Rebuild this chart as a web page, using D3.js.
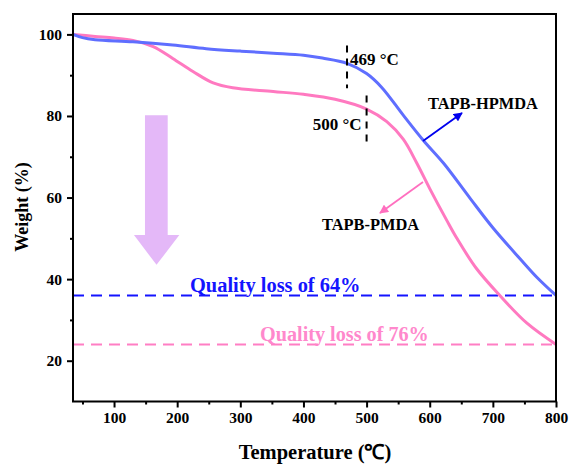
<!DOCTYPE html>
<html>
<head>
<meta charset="utf-8">
<script src="https://cdn.jsdelivr.net/npm/d3@7"></script>
<style>
  html, body { margin: 0; padding: 0; background: #fff; }
  svg { display: block; font-family: "Liberation Serif", "Times New Roman", serif; }
</style>
</head>
<body>
<svg id="chart" width="571" height="466"></svg>
<script>
// TGA curves: temperature (°C) vs. remaining weight (%)
const hpmdaTemp   = [35, 50, 70, 130, 193, 246, 300, 352, 400, 430, 469, 500, 524, 558, 590, 622, 664, 701, 743, 770, 800];
const hpmdaWeight = [100, 99.2, 98.7, 98.2, 97.4, 96.5, 95.9, 95.4, 94.9, 94.2, 92.9, 90.4, 87, 80.2, 74, 68.4, 59.8, 52.4, 45.0, 40.4, 36];

const pmdaTemp   = [35, 70, 100, 130, 162, 193, 225, 257, 288, 352, 400, 450, 500, 532, 558, 579, 600, 627, 643, 674, 711, 754, 800];
const pmdaWeight = [100, 99.5, 99.1, 98.5, 97, 94.1, 90.9, 88.1, 86.9, 86, 85.3, 84.1, 81.7, 78.6, 74.3, 68.6, 62.2, 54.4, 50, 42.6, 36, 29.2, 24];

const xTicks = [100, 200, 300, 400, 500, 600, 700, 800];
const xMinor = [50, 150, 250, 350, 450, 550, 650, 750];
const yTicks = [20, 40, 60, 80, 100];
const yMinor = [30, 50, 70, 90];

const onsetTemps = [469, 500];       // marked decomposition temperatures
const qualityLoss = [64, 76];        // % weight lost at 800 °C

const blue = "#5f6eff";
const pink = "#ff79c0";

const svg = d3.select("#chart");
const plotL = 73, plotR = 556, plotT = 14, plotB = 401.5;

const x = d3.scaleLinear().domain([35, 800]).range([plotL, plotR]);
const y = d3.scaleLinear().domain([10, 105]).range([plotB, plotT]);

// reference lines for residual weight
const lossColors = ["#1414ff", "#ff7ec4"];
qualityLoss.forEach((q, i) => {
  svg.append("line")
    .attr("x1", plotL).attr("x2", plotR)
    .attr("y1", y(100 - q)).attr("y2", y(100 - q))
    .attr("stroke", lossColors[i]).attr("stroke-width", 2)
    .attr("stroke-dasharray", "11,7");
});

svg.append("text").attr("x", 190).attr("y", y(100 - qualityLoss[0]) - 3.5)
  .attr("font-size", 20.4).attr("font-weight", "bold").attr("fill", "#1414ff")
  .text(`Quality loss of ${qualityLoss[0]}%`);
svg.append("text").attr("x", 260).attr("y", y(100 - qualityLoss[1]) - 3)
  .attr("font-size", 20.2).attr("font-weight", "bold").attr("fill", "#ff88cc")
  .text(`Quality loss of ${qualityLoss[1]}%`);

// big downward arrow (temperature / weight coordinates)
const arrowPts = [
  [149, 80.2], [185, 80.2], [185, 50.8], [203.4, 50.8],
  [167.3, 43.5], [131.6, 50.8], [149, 50.8]
].map(([t, w]) => [x(t), y(w)]);
svg.append("path")
  .attr("d", d3.line()(arrowPts) + "Z")
  .attr("fill", "#e4b8f8");

// curves
const line = d3.line().curve(d3.curveCatmullRom.alpha(0.5));
svg.append("path")
  .attr("d", line(pmdaTemp.map((t, i) => [x(t), y(pmdaWeight[i])])))
  .attr("fill", "none").attr("stroke", pink).attr("stroke-width", 3);
svg.append("path")
  .attr("d", line(hpmdaTemp.map((t, i) => [x(t), y(hpmdaWeight[i])])))
  .attr("fill", "none").attr("stroke", blue).attr("stroke-width", 3);

// onset markers
const markerSpans = [[97.3, 86.8], [85, 73.2]];
onsetTemps.forEach((t, i) => {
  svg.append("line")
    .attr("x1", x(t)).attr("x2", x(t))
    .attr("y1", y(markerSpans[i][0])).attr("y2", y(markerSpans[i][1]))
    .attr("stroke", "#000").attr("stroke-width", 2)
    .attr("stroke-dasharray", "7,6");
});
svg.append("text").attr("x", x(onsetTemps[0]) + 3).attr("y", 65)
  .attr("font-size", 17).attr("font-weight", "bold").text(`${onsetTemps[0]} °C`);
svg.append("text").attr("x", x(onsetTemps[1]) - 5).attr("y", 130)
  .attr("text-anchor", "end")
  .attr("font-size", 17).attr("font-weight", "bold").text(`${onsetTemps[1]} °C`);

// series labels with pointer arrows
const defs = svg.append("defs");
[["hBlue", "#0000ee"], ["hPink", "#ff6fbf"]].forEach(([id, c]) => {
  defs.append("marker").attr("id", id)
    .attr("viewBox", "0 0 10 10").attr("refX", 9).attr("refY", 5)
    .attr("markerWidth", 5.5).attr("markerHeight", 5)
    .attr("orient", "auto-start-reverse")
    .append("path").attr("d", "M0,0 L10,5 L0,10 Z").attr("fill", c);
});
svg.append("line").attr("x1", 423).attr("y1", 141).attr("x2", 462).attr("y2", 113)
  .attr("stroke", "#0000ee").attr("stroke-width", 1.8).attr("marker-end", "url(#hBlue)");
svg.append("line").attr("x1", 423).attr("y1", 182).attr("x2", 380).attr("y2", 213)
  .attr("stroke", "#ff6fbf").attr("stroke-width", 1.8).attr("marker-end", "url(#hPink)");

svg.append("text").attr("x", 428).attr("y", 109)
  .attr("font-size", 16.4).attr("font-weight", "bold").text("TAPB-HPMDA");
svg.append("text").attr("x", 322).attr("y", 229.5)
  .attr("font-size", 16.4).attr("font-weight", "bold").text("TAPB-PMDA");

// frame and axes
svg.append("rect").attr("x", plotL).attr("y", plotT)
  .attr("width", plotR - plotL).attr("height", plotB - plotT)
  .attr("fill", "none").attr("stroke", "#000").attr("stroke-width", 2);

const xAxis = svg.append("g").attr("transform", `translate(0,${plotB})`)
  .call(d3.axisBottom(x).tickValues(xTicks).tickSize(6).tickPadding(4));
const xAxisMinor = svg.append("g").attr("transform", `translate(0,${plotB})`)
  .call(d3.axisBottom(x).tickValues(xMinor).tickSize(3).tickFormat(""));
const yAxis = svg.append("g").attr("transform", `translate(${plotL},0)`)
  .call(d3.axisLeft(y).tickValues(yTicks).tickSize(6).tickPadding(5));
const yAxisMinor = svg.append("g").attr("transform", `translate(${plotL},0)`)
  .call(d3.axisLeft(y).tickValues(yMinor).tickSize(3).tickFormat(""));

[xAxis, xAxisMinor, yAxis, yAxisMinor].forEach(g => {
  g.select(".domain").remove();
  g.selectAll(".tick line").attr("stroke", "#000").attr("stroke-width", 2);
  g.selectAll(".tick text")
    .attr("font-family", "Liberation Serif, Times New Roman, serif")
    .attr("font-size", 15.5).attr("font-weight", "bold").attr("fill", "#000");
});

svg.append("text").attr("x", 315).attr("y", 459)
  .attr("text-anchor", "middle").attr("font-size", 20.5).attr("font-weight", "bold")
  .text("Temperature (℃)");
svg.append("text")
  .attr("transform", "translate(28,207) rotate(-90)")
  .attr("text-anchor", "middle").attr("font-size", 18).attr("font-weight", "bold")
  .text("Weight (%)");
</script>
</body>
</html>
